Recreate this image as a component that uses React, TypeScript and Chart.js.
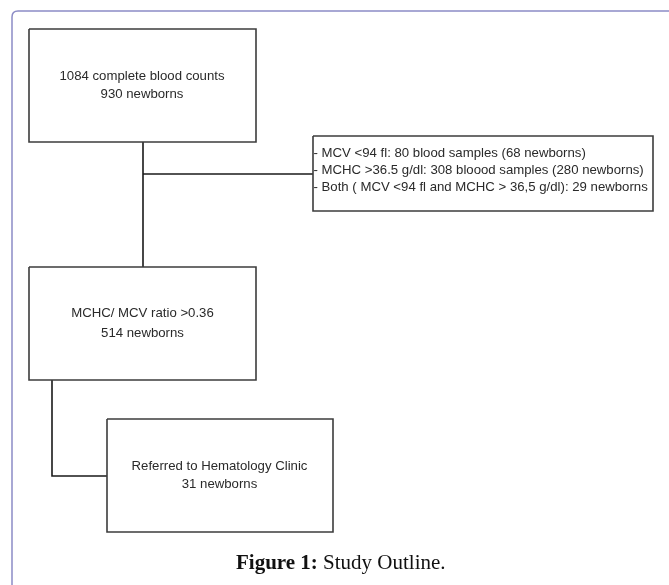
import React, { useEffect, useRef } from "react";
import { Chart, registerables } from "chart.js";

Chart.register(...registerables);

// Flowchart boxes (data units = page pixels)
const boxNames = ["counts", "criteria", "ratio", "referred"];
const boxLeft = [29, 313, 29, 107];
const boxRight = [256, 653, 256, 333];
const boxTop = [29, 136, 267, 419];
const boxBottom = [142, 211, 380, 532];
const boxAlign = ["center", "left", "center", "center"];
const boxTextX = [142, 313.5, 142.5, 219.5];
const boxTextY = [76, 153, 313, 466];
const boxLineGap = [18, 17, 20, 18];
const boxLines = [
  ["1084 complete blood counts", "930 newborns"],
  [
    "- MCV <94 fl: 80 blood samples (68 newborns)",
    "- MCHC >36.5 g/dl: 308 bloood samples (280 newborns)",
    "- Both ( MCV <94 fl and MCHC > 36,5 g/dl): 29 newborns",
  ],
  ["MCHC/ MCV ratio >0.36", "514 newborns"],
  ["Referred to Hematology Clinic", "31 newborns"],
];

// Connector polylines
const connectors = [
  [ [143, 142], [143, 267] ],
  [ [143, 174], [313, 174] ],
  [ [52, 380], [52, 476], [107, 476] ],
];

const captionBold = "Figure 1:";
const captionText = " Study Outline.";
const captionPos = [236, 569];

const W = 669;
const H = 585;

const textPlugin = {
  id: "flowText",
  beforeDraw(chart: any) {
    const { ctx, scales } = chart;
    const xs = scales.x, ys = scales.y;
    ctx.save();
    ctx.fillStyle = "#ffffff";
    ctx.fillRect(0, 0, chart.width, chart.height);
    // outer frame
    const fx = xs.getPixelForValue(12);
    const fy = ys.getPixelForValue(11);
    const r = 6;
    ctx.strokeStyle = "#8c8cc6";
    ctx.lineWidth = 1.5;
    ctx.beginPath();
    ctx.moveTo(fx, ys.getPixelForValue(H));
    ctx.lineTo(fx, fy + r);
    ctx.quadraticCurveTo(fx, fy, fx + r, fy);
    ctx.lineTo(xs.getPixelForValue(W), fy);
    ctx.stroke();
    ctx.restore();
  },
  afterDraw(chart: any) {
    const { ctx, scales } = chart;
    const xs = scales.x, ys = scales.y;
    ctx.save();
    ctx.fillStyle = "#2a2a2a";
    ctx.font = "13.2px 'Liberation Sans', Arial, sans-serif";
    ctx.textBaseline = "middle";
    boxLines.forEach((lines, i) => {
      ctx.textAlign = boxAlign[i];
      lines.forEach((t, j) => {
        ctx.fillText(
          t,
          xs.getPixelForValue(boxTextX[i]),
          ys.getPixelForValue(boxTextY[i] + j * boxLineGap[i])
        );
      });
    });
    // caption
    ctx.fillStyle = "#111";
    ctx.textAlign = "left";
    ctx.textBaseline = "alphabetic";
    const cx = xs.getPixelForValue(captionPos[0]);
    const cy = ys.getPixelForValue(captionPos[1]);
    ctx.font = "bold 21px 'Liberation Serif', 'Times New Roman', serif";
    ctx.fillText(captionBold, cx, cy);
    const bw = ctx.measureText(captionBold).width;
    ctx.font = "21px 'Liberation Serif', 'Times New Roman', serif";
    ctx.fillText(captionText, cx + bw, cy);
    ctx.restore();
  },
};

export default function App() {
  const ref = useRef<HTMLCanvasElement>(null);
  useEffect(() => {
    if (!ref.current) return;
    const boxSets = boxNames.map((name, i) => ({
      label: name,
      data: [
        { x: boxLeft[i], y: boxTop[i] },
        { x: boxRight[i], y: boxTop[i] },
        { x: boxRight[i], y: boxBottom[i] },
        { x: boxLeft[i], y: boxBottom[i] },
        { x: boxLeft[i], y: boxTop[i] },
      ],
      showLine: true,
      borderColor: "#3c3c3c",
      borderWidth: 1.6,
      pointRadius: 0,
      fill: false,
      tension: 0,
    }));
    const connSets = connectors.map((pts, i) => ({
      label: "conn" + i,
      data: pts.map((p) => ({ x: p[0], y: p[1] })),
      showLine: true,
      borderColor: "#1a1a1a",
      borderWidth: 1.6,
      pointRadius: 0,
      fill: false,
      tension: 0,
    }));
    const chart = new Chart(ref.current, {
      type: "scatter",
      data: { datasets: [...boxSets, ...connSets] as any },
      options: {
        animation: false,
        responsive: false,
        maintainAspectRatio: false,
        layout: { padding: 0 },
        plugins: { legend: { display: false }, tooltip: { enabled: false } },
        scales: {
          x: { type: "linear", min: 0, max: W, display: false },
          y: { type: "linear", min: 0, max: H, reverse: true, display: false },
        },
      },
      plugins: [textPlugin],
    });
    return () => chart.destroy();
  }, []);
  return (
    <div style={{ position: "absolute", left: 0, top: 0, width: W, height: H, background: "#fff" }}>
      <canvas ref={ref} width={W} height={H} style={{ width: W, height: H, display: "block" }} />
    </div>
  );
}
